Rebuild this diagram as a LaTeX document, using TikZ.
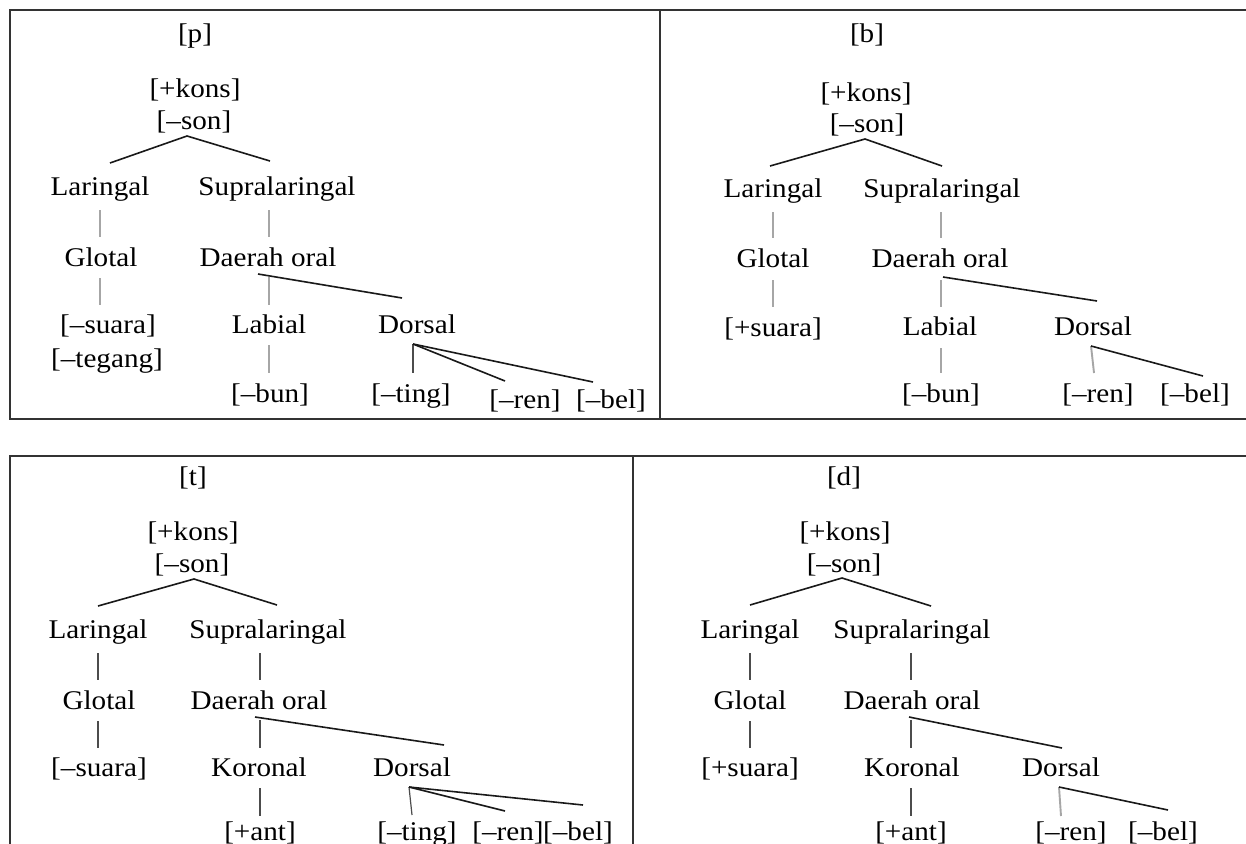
\documentclass[tikz,border=0pt]{standalone}
\usepackage{fontspec}
\setmainfont{Liberation Serif}[FakeStretch=1.08]
\begin{document}
\begin{tikzpicture}[x=1pt,y=-1pt,
  lbl/.style={anchor=base,inner sep=0pt,font=\fontsize{27}{32}\selectfont},
  br/.style={line width=1.6pt,black!90},
  vg/.style={line width=1.9pt,black!35},
  vd/.style={line width=1.2pt,black!70},
  frame/.style={line width=1.9pt,black!80}]
\useasboundingbox (0,0) rectangle (1246,843);
\fill[white] (0,0) rectangle (1246,843);

% ---------- frames ----------
\draw[frame] (1250,10) -- (10,10) -- (10,419) -- (1250,419);
\draw[frame] (660,10) -- (660,419);
\draw[frame] (1250,456) -- (10,456) -- (10,850);
\draw[frame] (633,456) -- (633,850);

% ---------- [p] ----------
\node[lbl] (p-lbl) at (195,42) {[p]};
\node[lbl] (p-kons) at (195,97) {[+kons]};
\node[lbl] (p-son) at (194,129) {[–son]};
\node[lbl] (p-lar) at (100,195) {Laringal};
\node[lbl] (p-sup) at (277,195) {Supralaringal};
\node[lbl] (p-glo) at (101,266) {Glotal};
\node[lbl] (p-dao) at (268,266) {Daerah oral};
\node[lbl] (p-sua) at (108,333) {[–suara]};
\node[lbl] (p-teg) at (107,367) {[–tegang]};
\node[lbl] (p-lab) at (269,333) {Labial};
\node[lbl] (p-dor) at (417,333) {Dorsal};
\node[lbl] (p-bun) at (270,402) {[–bun]};
\node[lbl] (p-tin) at (411,402) {[–ting]};
\node[lbl] (p-ren) at (525,408) {[–ren]};
\node[lbl] (p-bel) at (611,408) {[–bel]};
\coordinate (p-r) at (187,136);
\coordinate (p-r1) at (110,163);
\coordinate (p-r2) at (270,161);
\coordinate (p-l1) at (100,210); \coordinate (p-l2) at (100,237);
\coordinate (p-s1) at (269,210); \coordinate (p-s2) at (269,237);
\coordinate (p-g1) at (100,278); \coordinate (p-g2) at (100,305);
\coordinate (p-o) at (258,274); \coordinate (p-o1) at (269,277);
\coordinate (p-o2) at (269,305); \coordinate (p-o3) at (402,298);
\coordinate (p-b1) at (269,345); \coordinate (p-b2) at (269,373);
\coordinate (p-d) at (413,344); \coordinate (p-d1) at (413,373);
\coordinate (p-d2) at (505,381); \coordinate (p-d3) at (593,382);
\draw[br] (p-r1) -- (p-r) -- (p-r2);
\draw[vg] (p-l1) -- (p-l2);
\draw[vg] (p-s1) -- (p-s2);
\draw[vg] (p-g1) -- (p-g2);
\draw[vg] (p-o1) -- (p-o2);
\draw[br] (p-o) -- (p-o3);
\draw[vg] (p-b1) -- (p-b2);
\draw[vd] (p-d) -- (p-d1);
\draw[br] (p-d) -- (p-d2);
\draw[br] (p-d) -- (p-d3);

% ---------- [b] ----------
\node[lbl] (b-lbl) at (867,42) {[b]};
\node[lbl] (b-kons) at (866,101) {[+kons]};
\node[lbl] (b-son) at (867,132) {[–son]};
\node[lbl] (b-lar) at (773,197) {Laringal};
\node[lbl] (b-sup) at (942,197) {Supralaringal};
\node[lbl] (b-glo) at (773,267) {Glotal};
\node[lbl] (b-dao) at (940,267) {Daerah oral};
\node[lbl] (b-sua) at (773,336) {[+suara]};
\node[lbl] (b-lab) at (940,335) {Labial};
\node[lbl] (b-dor) at (1093,335) {Dorsal};
\node[lbl] (b-bun) at (941,402) {[–bun]};
\node[lbl] (b-ren) at (1098,402) {[–ren]};
\node[lbl] (b-bel) at (1195,402) {[–bel]};
\coordinate (b-r) at (865,139);
\coordinate (b-r1) at (770,166);
\coordinate (b-r2) at (942,166);
\coordinate (b-l1) at (773,212); \coordinate (b-l2) at (773,238);
\coordinate (b-s1) at (941,212); \coordinate (b-s2) at (941,238);
\coordinate (b-g1) at (773,280); \coordinate (b-g2) at (773,307);
\coordinate (b-o) at (943,277); \coordinate (b-o1) at (941,280);
\coordinate (b-o2) at (941,307); \coordinate (b-o3) at (1097,301);
\coordinate (b-b1) at (941,348); \coordinate (b-b2) at (941,373);
\coordinate (b-d) at (1091,346); \coordinate (b-d1) at (1094,373);
\coordinate (b-d2) at (1203,376);
\draw[br] (b-r1) -- (b-r) -- (b-r2);
\draw[vg] (b-l1) -- (b-l2);
\draw[vg] (b-s1) -- (b-s2);
\draw[vg] (b-g1) -- (b-g2);
\draw[vg] (b-o1) -- (b-o2);
\draw[br] (b-o) -- (b-o3);
\draw[vg] (b-b1) -- (b-b2);
\draw[vg] (b-d) -- (b-d1);
\draw[br] (b-d) -- (b-d2);

% ---------- [t] ----------
\node[lbl] (t-lbl) at (193,485) {[t]};
\node[lbl] (t-kons) at (193,540) {[+kons]};
\node[lbl] (t-son) at (192,572) {[–son]};
\node[lbl] (t-lar) at (98,638) {Laringal};
\node[lbl] (t-sup) at (268,638) {Supralaringal};
\node[lbl] (t-glo) at (99,709) {Glotal};
\node[lbl] (t-dao) at (259,709) {Daerah oral};
\node[lbl] (t-sua) at (99,776) {[–suara]};
\node[lbl] (t-kor) at (259,776) {Koronal};
\node[lbl] (t-dor) at (412,776) {Dorsal};
\node[lbl] (t-ant) at (260,840) {[+ant]};
\node[lbl] (t-tin) at (417,840) {[–ting]};
\node[lbl] (t-ren) at (508,840) {[–ren]};
\node[lbl] (t-bel) at (578,840) {[–bel]};
\coordinate (t-r) at (194,579);
\coordinate (t-r1) at (98,606);
\coordinate (t-r2) at (277,605);
\coordinate (t-l1) at (98,653); \coordinate (t-l2) at (98,680);
\coordinate (t-s1) at (260,653); \coordinate (t-s2) at (260,680);
\coordinate (t-g1) at (98,721); \coordinate (t-g2) at (98,748);
\coordinate (t-o) at (255,717); \coordinate (t-o1) at (260,720);
\coordinate (t-o2) at (260,748); \coordinate (t-o3) at (444,745);
\coordinate (t-k1) at (260,788); \coordinate (t-k2) at (260,816);
\coordinate (t-d) at (409,787); \coordinate (t-d1) at (412,815);
\coordinate (t-d2) at (505,811); \coordinate (t-d3) at (583,805);
\draw[br] (t-r1) -- (t-r) -- (t-r2);
\draw[vd] (t-l1) -- (t-l2);
\draw[vd] (t-s1) -- (t-s2);
\draw[vd] (t-g1) -- (t-g2);
\draw[vd] (t-o1) -- (t-o2);
\draw[br] (t-o) -- (t-o3);
\draw[vd] (t-k1) -- (t-k2);
\draw[vd] (t-d) -- (t-d1);
\draw[br] (t-d) -- (t-d2);
\draw[br] (t-d) -- (t-d3);

% ---------- [d] ----------
\node[lbl] (d-lbl) at (844,485) {[d]};
\node[lbl] (d-kons) at (845,540) {[+kons]};
\node[lbl] (d-son) at (844,572) {[–son]};
\node[lbl] (d-lar) at (750,638) {Laringal};
\node[lbl] (d-sup) at (912,638) {Supralaringal};
\node[lbl] (d-glo) at (750,709) {Glotal};
\node[lbl] (d-dao) at (912,709) {Daerah oral};
\node[lbl] (d-sua) at (750,776) {[+suara]};
\node[lbl] (d-kor) at (912,776) {Koronal};
\node[lbl] (d-dor) at (1061,776) {Dorsal};
\node[lbl] (d-ant) at (911,840) {[+ant]};
\node[lbl] (d-ren) at (1071,840) {[–ren]};
\node[lbl] (d-bel) at (1163,840) {[–bel]};
\coordinate (d-r) at (842,578);
\coordinate (d-r1) at (750,605);
\coordinate (d-r2) at (931,606);
\coordinate (d-l1) at (750,653); \coordinate (d-l2) at (750,680);
\coordinate (d-s1) at (911,653); \coordinate (d-s2) at (911,680);
\coordinate (d-g1) at (750,721); \coordinate (d-g2) at (750,748);
\coordinate (d-o) at (909,717); \coordinate (d-o1) at (911,720);
\coordinate (d-o2) at (911,748); \coordinate (d-o3) at (1062,748);
\coordinate (d-k1) at (911,788); \coordinate (d-k2) at (911,816);
\coordinate (d-d) at (1059,787); \coordinate (d-d1) at (1061,816);
\coordinate (d-d2) at (1168,810);
\draw[br] (d-r1) -- (d-r) -- (d-r2);
\draw[vd] (d-l1) -- (d-l2);
\draw[vd] (d-s1) -- (d-s2);
\draw[vd] (d-g1) -- (d-g2);
\draw[vd] (d-o1) -- (d-o2);
\draw[br] (d-o) -- (d-o3);
\draw[vd] (d-k1) -- (d-k2);
\draw[vg] (d-d) -- (d-d1);
\draw[br] (d-d) -- (d-d2);
\end{tikzpicture}
\end{document}
